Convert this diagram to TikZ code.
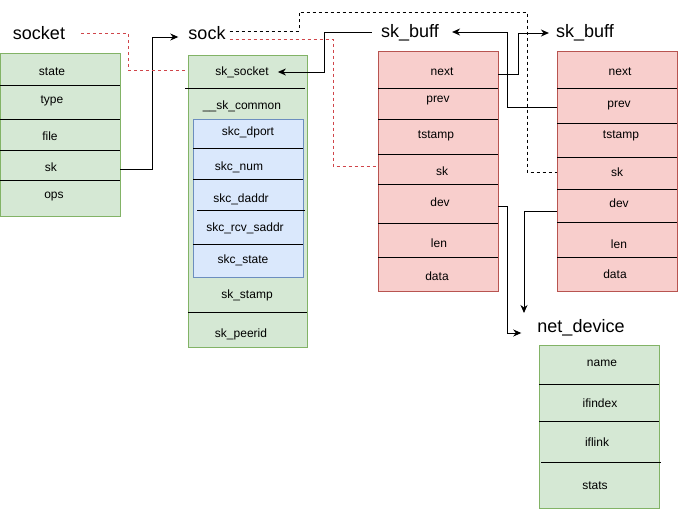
\documentclass[tikz,border=0pt]{standalone}
\usepackage{fontspec}
\setmainfont{Liberation Sans}
\usetikzlibrary{arrows.meta}
\definecolor{gfill}{HTML}{D5E8D4}
\definecolor{gline}{HTML}{82B366}
\definecolor{bfill}{HTML}{DAE8FC}
\definecolor{bline}{HTML}{6C8EBF}
\definecolor{rfill}{HTML}{F8CECC}
\definecolor{rline}{HTML}{B85450}
\definecolor{rdash}{HTML}{D0454A}
\begin{document}
\begin{tikzpicture}[x=1pt,y=-1pt,
  field/.style={font=\fontsize{12}{14}\selectfont, inner sep=0pt},
  title/.style={font=\fontsize{18}{21}\selectfont, inner sep=1pt},
  boxbase/.style={line width=1pt, inner sep=0pt, outer sep=0pt, anchor=north west},
  gbox/.style={boxbase, draw=gline, fill=gfill},
  bbox/.style={boxbase, draw=bline, fill=bfill},
  rbox/.style={boxbase, draw=rline, fill=rfill},
  sep/.style={draw=black, line width=1pt},
  conn/.style={draw=black, line width=1pt},
  arr/.style={-{Stealth[length=8pt,width=7pt,inset=2.5pt]}},
  rd/.style={draw=rdash, line width=0.8pt, dash pattern=on 3pt off 3pt},
  bd/.style={draw=black, line width=0.8pt, dash pattern=on 3pt off 3pt}
]
\useasboundingbox (0,0) rectangle (678,509);

% ---------- titles ----------
\node[title] (tsocket) at (39,33) {socket};
\node[title] (tsock) at (207,33) {sock};
\node[title] (tbuf1) at (410,33) {sk\_buff};
\node[title] (tbuf2) at (585,33) {sk\_buff};
\node[title] (tnet) at (581,328) {net\_device};

% ---------- socket ----------
\node[gbox, minimum width=120pt, minimum height=163pt] (socketbox) at (0,53) {};
\foreach \yy in {85,119,150,180}
  \draw[sep] (socketbox.west |- 0,\yy) -- (socketbox.east |- 0,\yy);
\node[field] (s_state) at (52,72) {state};
\node[field] (s_type) at (52,101) {type};
\node[field] (s_file) at (50,136) {file};
\node[field] (s_sk) at (51,167) {sk};
\node[field] (s_ops) at (54,197) {ops};

% ---------- sock ----------
\node[gbox, minimum width=119pt, minimum height=292pt] (sockbox) at (188,55) {};
\draw[sep] (185,88) -- (305,88);
\draw[sep] (sockbox.west |- 0,312) -- (sockbox.east |- 0,312);
\node[field] (k_socket) at (242,72) {sk\_socket};
\node[field] (k_common) at (242,106) {\_\_sk\_common};
\node[bbox, minimum width=110pt, minimum height=158pt] (commonbox) at (193,119) {};
\draw[sep] (commonbox.west |- 0,148) -- (commonbox.east |- 0,148);
\draw[sep] (commonbox.west |- 0,179) -- (commonbox.east |- 0,179);
\draw[sep] (197,210) -- (305,210);
\draw[sep] (commonbox.west |- 0,244) -- (commonbox.east |- 0,244);
\node[field] (c_dport) at (248,132) {skc\_dport};
\node[field] (c_num) at (239,167) {skc\_num};
\node[field] (c_daddr) at (241,199) {skc\_daddr};
\node[field] (c_rcv) at (245,228) {skc\_rcv\_saddr};
\node[field] (c_state) at (243,260) {skc\_state};
\node[field] (k_stamp) at (247,295) {sk\_stamp};
\node[field] (k_peer) at (241,334) {sk\_peerid};

% ---------- sk_buff 1 ----------
\node[rbox, minimum width=120pt, minimum height=240pt] (buf1) at (378,51) {};
\foreach \yy in {88,119,154,184,223,257}
  \draw[sep] (buf1.west |- 0,\yy) -- (buf1.east |- 0,\yy);
\node[field] (a_next) at (442,72) {next};
\node[field] (a_prev) at (438,101) {prev};
\node[field] (a_ts) at (436,136) {tstamp};
\node[field] (a_sk) at (442,171) {sk};
\node[field] (a_dev) at (440,202) {dev};
\node[field] (a_len) at (439,243) {len};
\node[field] (a_data) at (437,276) {data};

% ---------- sk_buff 2 ----------
\node[rbox, minimum width=120pt, minimum height=240pt] (buf2) at (557,51) {};
\foreach \yy in {88,123,157,189,222,257}
  \draw[sep] (buf2.west |- 0,\yy) -- (buf2.east |- 0,\yy);
\node[field] (b_next) at (620,72) {next};
\node[field] (b_prev) at (619,106) {prev};
\node[field] (b_ts) at (621,136) {tstamp};
\node[field] (b_sk) at (617,172) {sk};
\node[field] (b_dev) at (619,203) {dev};
\node[field] (b_len) at (619,244) {len};
\node[field] (b_data) at (615,274) {data};

% ---------- net_device ----------
\node[gbox, minimum width=120pt, minimum height=163pt] (netbox) at (539,345) {};
\draw[sep] (netbox.west |- 0,384) -- (netbox.east |- 0,384);
\draw[sep] (netbox.west |- 0,421) -- (netbox.east |- 0,421);
\draw[sep] (541,462) -- (661,462);
\node[field] (n_name) at (602,363) {name};
\node[field] (n_ifindex) at (600,403) {ifindex};
\node[field] (n_iflink) at (597,442) {iflink};
\node[field] (n_stats) at (595,486) {stats};

% ---------- connectors ----------
% socket.sk -> sock
\draw[conn,arr,shorten >=9pt] (socketbox.east |- 0,169) -- (152,169) -- (152,37) -- (tsock.west |- 0,37);
% socket title - - sock.sk_socket (red dashed)
\draw[rd,shorten <=15pt] (tsocket.east |- 0,33) -- (128,33) -- (128,70) -- (sockbox.west |- 0,70);
% sock title - - sk_buff1.sk (red dashed)
\draw[rd,shorten <=3pt] (tsock.east |- 0,39) -- (333,39) -- (333,166) -- (buf1.west |- 0,166);
% sock title - - sk_buff2.sk (black dashed)
\draw[bd,shorten <=3pt] (tsock.east |- 0,31) -- (299,31) -- (299,12) -- (527,12) -- (527,172) -- (buf2.west |- 0,172);
% sk_buff1 title -> sk_socket
\coordinate (sockettip) at ([xshift=9pt]k_socket.east);
\draw[conn,arr,shorten <=8pt] (tbuf1.west |- 0,32) -- (324,32) -- (324,72) -- (sockettip);
% sk_buff1.next -> sk_buff2
\draw[conn,arr,shorten >=6pt] (buf1.east |- 0,74) -- (518,74) -- (518,33) -- (tbuf2.west |- 0,33);
% sk_buff2.prev -> sk_buff1
\draw[conn,arr,shorten >=12pt] (buf2.west |- 0,107) -- (507,107) -- (507,32) -- (tbuf1.east |- 0,32);
% sk_buff1.dev -> net_device
\draw[conn,arr,shorten >=15pt] (buf1.east |- 0,206) -- (507,206) -- (507,333) -- (tnet.west |- 0,333);
% sk_buff2.dev -> down
\coordinate (devtip) at (524,313);
\draw[conn,arr] (buf2.west |- 0,211) -- (524,211) -- (devtip);
\end{tikzpicture}
\end{document}
